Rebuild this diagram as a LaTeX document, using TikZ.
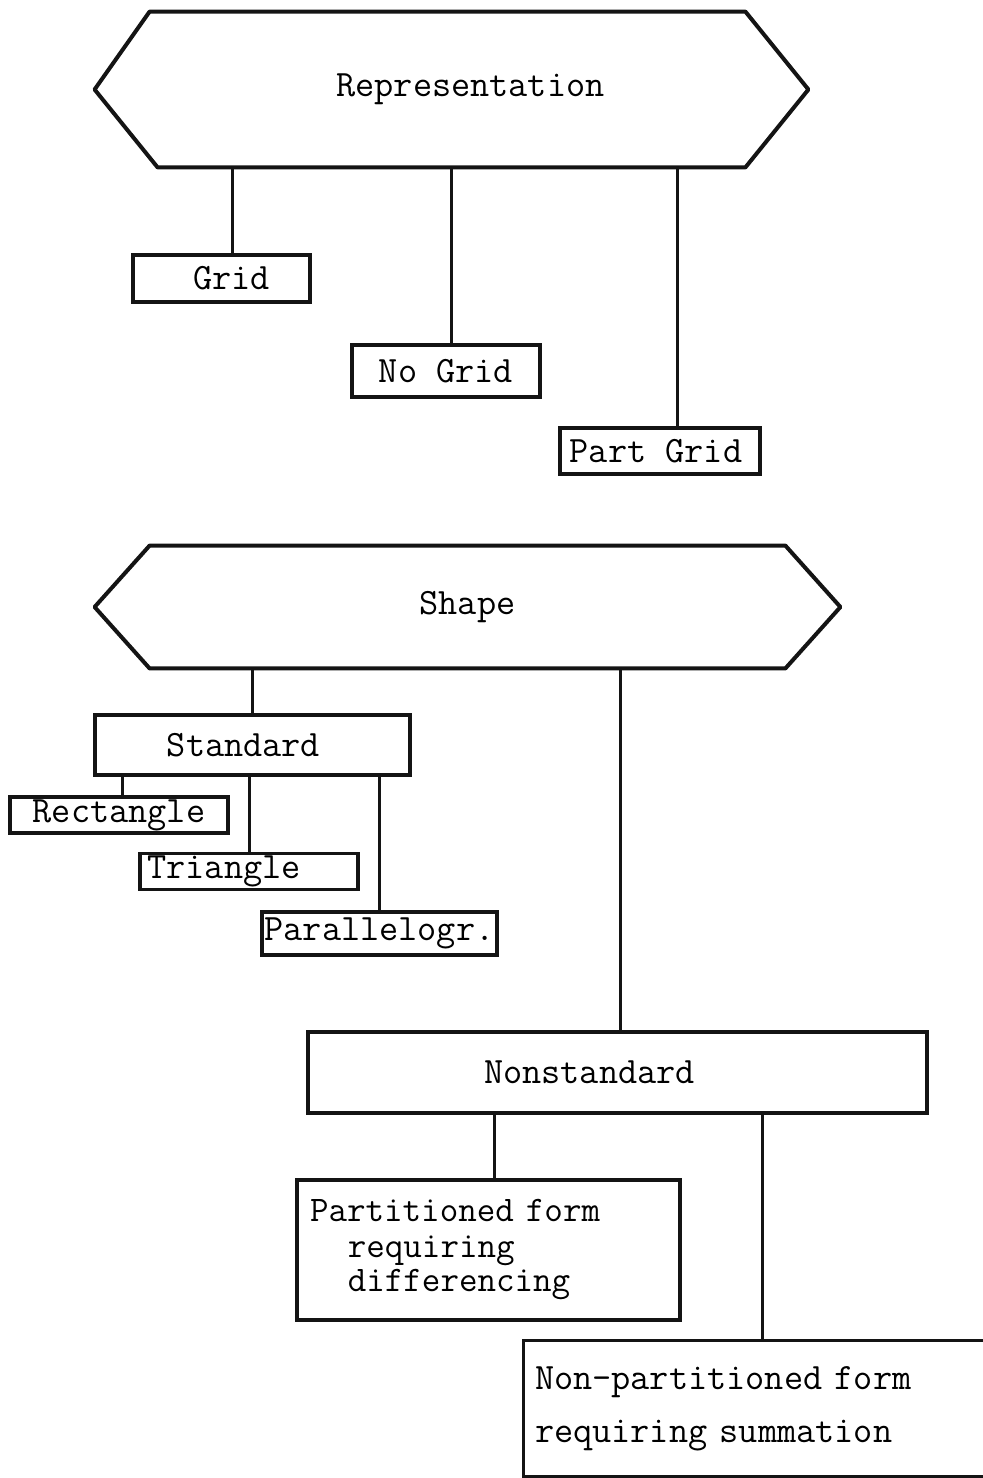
\documentclass[tikz,border=0pt]{standalone}
\usepackage{fontspec}
\usepackage{tikz}
\usetikzlibrary{positioning, calc}
\definecolor{inkline}{RGB}{20,20,20}
\tikzset{
  treebox/.style={
    rectangle, draw=inkline, line width=1.6pt,
    fill=white, align=center,
    font=\ttfamily\fontsize{18.6}{16.75}\selectfont,
    inner xsep=1pt, inner ysep=1pt
  },
  openbox/.style={treebox, draw=none, fill=none},
  boxline/.style={draw=inkline, line width=1.6pt},
  hexbody/.style={
    rectangle, draw=none,
    font=\ttfamily\fontsize{18.6}{16.75}\selectfont,
    inner sep=0pt
  },
  hexline/.style={draw=inkline, line width=2pt, line join=round},
  link/.style={draw=inkline, line width=1.5pt}
}

\begin{document}
\begin{tikzpicture}[x=0.5pt, y=-0.5pt]
  \useasboundingbox (0,0) rectangle (983,1478);

  % top tree
  \node[hexbody, minimum width=297.5pt, minimum height=77.5pt] (rep) at (447.5,89.5) {\hspace*{23pt}Representation};
  \draw[hexline] (rep.north west) -- (rep.north east) -- ([xshift=31.5pt]rep.east)
    -- (rep.south east) -- ([xshift=4pt]rep.south west) -- ([xshift=-27.5pt]rep.west) -- cycle;
  \node[treebox, minimum width=88.5pt, minimum height=23.5pt] (grid) at (221.5,278.5) {\hspace*{10pt}Grid};
  \node[treebox, minimum width=94pt, minimum height=26pt] (nogrid) at (446,371) {No Grid};
  \node[treebox, minimum width=100pt, minimum height=23pt] (partgrid) at (660,451) {Part Grid\hspace*{4pt}};

  \draw[link] ([xshift=5.5pt]grid.north) -- ([xshift=5.5pt]grid.north |- rep.south);
  \draw[link] ([xshift=2.5pt]nogrid.north) -- ([xshift=2.5pt]nogrid.north |- rep.south);
  \draw[link] ([xshift=8.5pt]partgrid.north) -- ([xshift=8.5pt]partgrid.north |- rep.south);

  % bottom tree
  \node[hexbody, minimum width=317.5pt, minimum height=61pt] (shape) at (467.5,607) {Shape};
  \draw[hexline] (shape.north west) -- (shape.north east) -- ([xshift=27.5pt]shape.east)
    -- (shape.south east) -- (shape.south west) -- ([xshift=-27.5pt]shape.west) -- cycle;

  \node[treebox, minimum width=157.5pt, minimum height=30pt] (std) at (252.5,745) {Standard\hspace*{9pt}};
  \node[treebox, minimum width=109pt, minimum height=18pt] (rect) at (119,815) {Rectangle};
  \node[treebox, minimum width=109pt, minimum height=16.5pt] (tri) at (249,871.5) {Triangle\hspace*{25pt}};
  \node[treebox, minimum width=117.5pt, minimum height=21.5pt] (para) at (379.5,933.5) {Parallelogr.};

  \draw[link] (std.north) -- (std.north |- shape.south);
  \draw[link] ([xshift=1.5pt]rect.north) -- ([xshift=1.5pt]rect.north |- std.south);
  \draw[link] (tri.north) -- (tri.north |- std.south);
  \draw[link] (para.north) -- (para.north |- std.south);

  \node[treebox, minimum width=309.5pt, minimum height=40.5pt] (nonstd) at (617.5,1072.5) {Nonstandard\hspace*{28pt}};
  \draw[link] ([xshift=1.5pt]nonstd.north) -- ([xshift=1.5pt]nonstd.north |- shape.south);

  \node[treebox, align=left, text width=178.5pt, inner xsep=6.5pt, minimum height=70pt,
    font=\ttfamily\fontsize{18}{17.5}\selectfont] (parted) at (488.5,1250)
    {Partitioned form\\\hspace*{1.05em}requiring\\\hspace*{1.05em}differencing};
  % right side runs off the page
  \node[openbox, align=left, text width=219pt, inner xsep=5pt, minimum height=66.5pt,
    font=\ttfamily\fontsize{18.6}{26.5}\selectfont] (nonparted) at (754,1408.5)
    {Non-partitioned form\\requiring summation};
  \draw[boxline] (nonparted.north east) -- (nonparted.north west)
    -- (nonparted.south west) -- (nonparted.south east);

  \draw[link] ([xshift=3pt]parted.north) -- ([xshift=3pt]parted.north |- nonstd.south);
  \draw[link] ([xshift=4pt]nonparted.north) -- ([xshift=4pt]nonparted.north |- nonstd.south);
\end{tikzpicture}
\end{document}
